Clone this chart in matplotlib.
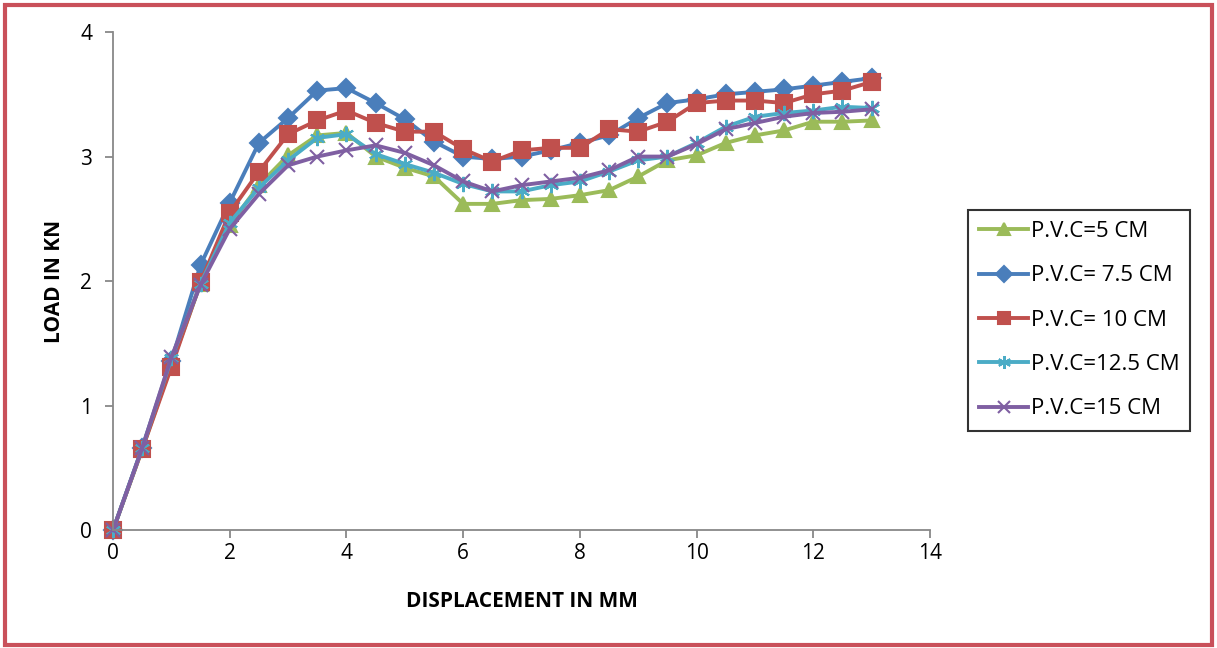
import numpy as np
import matplotlib
matplotlib.use("Agg")
import matplotlib.pyplot as plt
from matplotlib.patches import Rectangle

plt.rcParams['font.family'] = ['Open Sans', 'DejaVu Sans']

# displacement steps (mm)
disp = [0, 0.5, 1, 1.5, 2, 2.5, 3, 3.5, 4, 4.5, 5, 5.5, 6, 6.5, 7,
        7.5, 8, 8.5, 9, 9.5, 10, 10.5, 11, 11.5, 12, 12.5, 13]

# load (kN) for each P.V.C spacing
load_5 = [0, 0.65, 1.33, 1.98, 2.45, 2.77, 3.01, 3.17, 3.19, 3.0, 2.91, 2.84, 2.62, 2.62,
          2.65, 2.66, 2.69, 2.73, 2.84, 2.97, 3.01, 3.11, 3.17, 3.21, 3.28, 3.28, 3.29]
load_75 = [0, 0.66, 1.36, 2.13, 2.63, 3.11, 3.31, 3.53, 3.55, 3.43, 3.3, 3.12, 3.0, 2.98,
           3.0, 3.05, 3.11, 3.17, 3.31, 3.43, 3.46, 3.5, 3.52, 3.54, 3.57, 3.6, 3.63]
load_10 = [0, 0.65, 1.31, 1.99, 2.55, 2.88, 3.18, 3.29, 3.37, 3.27, 3.2, 3.2, 3.06, 2.96,
           3.05, 3.07, 3.07, 3.22, 3.2, 3.28, 3.43, 3.45, 3.45, 3.43, 3.5, 3.53, 3.6]
load_125 = [0, 0.66, 1.38, 1.98, 2.47, 2.75, 2.97, 3.15, 3.18, 3.02, 2.94, 2.87, 2.78, 2.72,
            2.72, 2.77, 2.8, 2.88, 2.97, 3.0, 3.11, 3.24, 3.32, 3.35, 3.37, 3.4, 3.39]
load_15 = [0, 0.66, 1.39, 1.97, 2.42, 2.7, 2.93, 3.0, 3.05, 3.09, 3.03, 2.93, 2.8, 2.72,
           2.77, 2.8, 2.83, 2.89, 3.0, 3.0, 3.1, 3.22, 3.27, 3.32, 3.35, 3.36, 3.38]

labels = ['P.V.C=5 CM', 'P.V.C= 7.5 CM', 'P.V.C= 10 CM', 'P.V.C=12.5 CM', 'P.V.C=15 CM']
colors = ['#9BBB59', '#4A7EBB', '#C0504D', '#4BACC6', '#7F5FA2']
markers = ['^', 'D', 's', (6, 2, 0), 'x']
msizes = [10, 9, 11, 11, 10]

fig = plt.figure(figsize=(12.17, 6.48), dpi=100)
ax = fig.add_axes([0.0929, 0.182, 0.6713, 0.7685])

series = [load_5, load_75, load_10, load_125, load_15]
for y, lab, c, mk, ms in zip(series, labels, colors, markers, msizes):
    ax.plot(disp, y, color=c, lw=2.8, marker=mk, ms=ms, mfc=c, mec=c,
            mew=1.5, label=lab, clip_on=False)

ax.set_xlim(0, 14)
ax.set_ylim(0, 4)
ax.set_xticks(np.arange(0, 15, 2))
ax.set_yticks(np.arange(0, 5, 1))
for s in ['top', 'right']:
    ax.spines[s].set_visible(False)
for s in ['left', 'bottom']:
    ax.spines[s].set_color('#888888')
    ax.spines[s].set_linewidth(1.3)
ax.tick_params(axis='both', direction='out', length=6, width=1.3, color='#888888',
               labelsize=15, pad=3)
ax.tick_params(axis='y', pad=9)

ax.set_xlabel('DISPLACEMENT IN MM', fontsize=15, fontweight='bold', labelpad=20)
ax.set_ylabel('LOAD IN KN', fontsize=15, fontweight='bold', labelpad=11)

leg = ax.legend(loc='upper left', bbox_to_anchor=(968 / 1217, 1 - 210 / 648),
                bbox_transform=fig.transFigure, borderaxespad=0, fontsize=16,
                frameon=True, fancybox=False, edgecolor='black', handlelength=2.2,
                handletextpad=0.12, labelspacing=1.05, borderpad=0.5, markerscale=0.85)
leg.get_frame().set_linewidth(1.5)

# red frame around the whole figure
fig.patches.append(Rectangle((5 / 1217, 3 / 648), 1207 / 1217, 640 / 648,
                             transform=fig.transFigure, fill=False,
                             edgecolor='#C9505A', linewidth=3))

fig.savefig('out.png', dpi=100)
